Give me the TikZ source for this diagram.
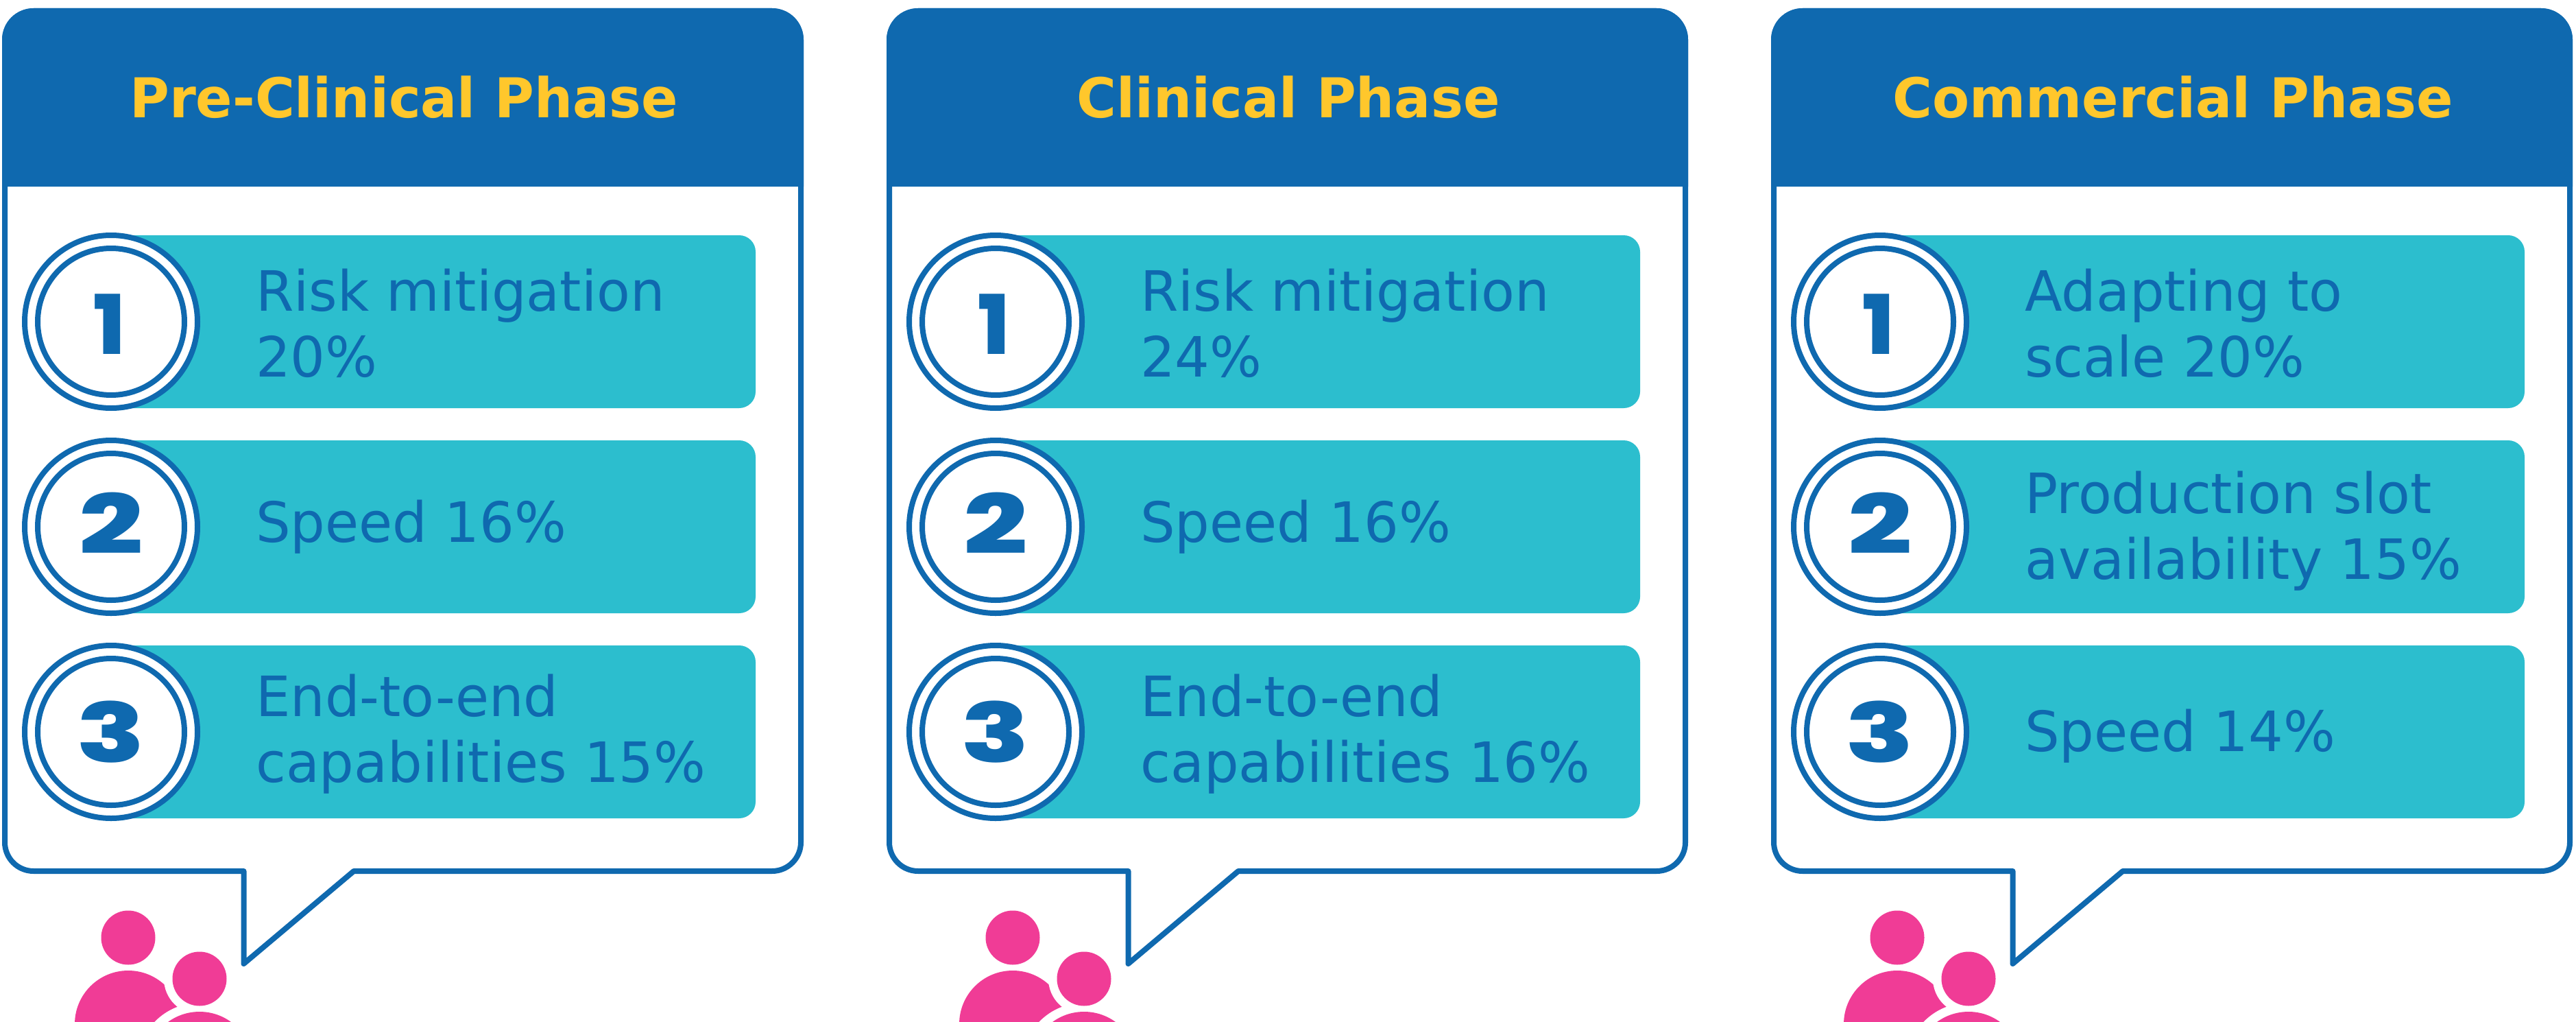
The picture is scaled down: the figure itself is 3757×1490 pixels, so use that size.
\documentclass[tikz,border=0pt]{standalone}
\usepackage{fontspec}
\setmainfont[FakeStretch=0.985]{DejaVu Sans}
\newfontfamily\digfont[FakeStretch=1.37]{Poppins ExtraBold}
\newfontfamily\digfontone{Poppins ExtraBold}
\definecolor{mblue}{HTML}{0F69AF}
\definecolor{mteal}{HTML}{2CBECE}
\definecolor{myellow}{HTML}{FFC72C}
\definecolor{mpink}{HTML}{F03C96}
\tikzset{
  bubble/.style={draw=mblue,fill=white,line width=8pt,rounded corners=0pt,line join=round},
  header/.style={fill=mblue},
  title/.style={inner sep=0pt,text=myellow,font=\fontsize{80}{95}\selectfont\bfseries,anchor=base},
  bar/.style={fill=mteal,rounded corners=24pt},
  ring/.style={draw=mblue,fill=white,line width=8pt,circle,minimum size=252pt,inner sep=0pt},
  ringb/.style={draw=mblue,fill=white,line width=8pt,circle,minimum size=214pt,inner sep=0pt},
  digit/.style={inner sep=0pt,text=mblue,font=\fontsize{120}{120}\digfont,anchor=base},
  digitone/.style={inner sep=0pt,text=mblue,font=\fontsize{120}{120}\digfontone,anchor=base},
  item/.style={inner sep=0pt,text=mblue,font=\fontsize{81}{96}\selectfont,align=left,anchor=base west},
  person/.style={fill=mpink},
  halo/.style={fill=white}
}
\newcommand{\phasecol}[9]{%
\begin{scope}[xshift=#1pt,name prefix=#2-]
  \path[bubble] (49,16) -- (1126,16) arc[start angle=-90,end angle=0,radius=42] -- (1168,1228)
     arc[start angle=0,end angle=90,radius=42] -- (516,1270) -- (355.5,1405) -- (355.5,1270)
     -- (49,1270) arc[start angle=90,end angle=180,radius=42] -- (7,58) arc[start angle=180,end angle=270,radius=42] -- cycle;
  \fill[header] (3,272) -- (3,58) arc[start angle=180,end angle=270,radius=46] -- (1126,12) arc[start angle=-90,end angle=0,radius=46] -- (1172,272) -- cycle;
  \node[title] (t) at (#4,172) {#3};
  \foreach \yc/\n in {469/a,768/b,1067/c}{
    \fill[bar] (162,\yc-126) rectangle (1102,\yc+126);
    \node[ring] (r\n) at (162,\yc) {};
    \node[ringb] (q\n) at (162,\yc) {};
  }
  \node[digitone] (da) at (160,516) {1};
  \node[digit] (db) at (162,807) {2};
  \node[digit] (dc) at (162,1111) {3};
  \node[item] (ia) at (373,#5) {#6};
  \node[item] (ib) at (373,#7) {#8};
  \node[item] (ic) at (373,#9) {\thirditem};
  \begin{scope}
    \clip (0,1290) rectangle (500,1490);
    \fill[person] (187,1493) circle[radius=78];
    \fill[halo] (291,1427) circle[radius=52];
    \fill[halo] (291,1553) circle[radius=91];
    \fill[person] (187,1367) circle[radius=39.5];
    \fill[person] (291,1427) circle[radius=39.5];
    \fill[person] (291,1553) circle[radius=78];
  \end{scope}
\end{scope}}
\begin{document}
\begin{tikzpicture}[x=1pt,y=-1pt]
\useasboundingbox (0,0) rectangle (3757,1490);
\def\thirditem{End-to-end\\capabilities 15\%}
\phasecol{0}{p}{Pre-Clinical Phase}{589}{549}{Risk mitigation\\20\%}{790}{Speed 16\%}{1140}
\def\thirditem{End-to-end\\capabilities 16\%}
\phasecol{1290}{k}{Clinical Phase}{589}{549}{Risk mitigation\\24\%}{790}{Speed 16\%}{1140}
\def\thirditem{Speed 14\%}
\phasecol{2580}{m}{Commercial Phase}{589}{549}{Adapting to\\scale 20\%}{844}{Production slot\\availability 15\%}{1095}
\end{tikzpicture}
\end{document}
